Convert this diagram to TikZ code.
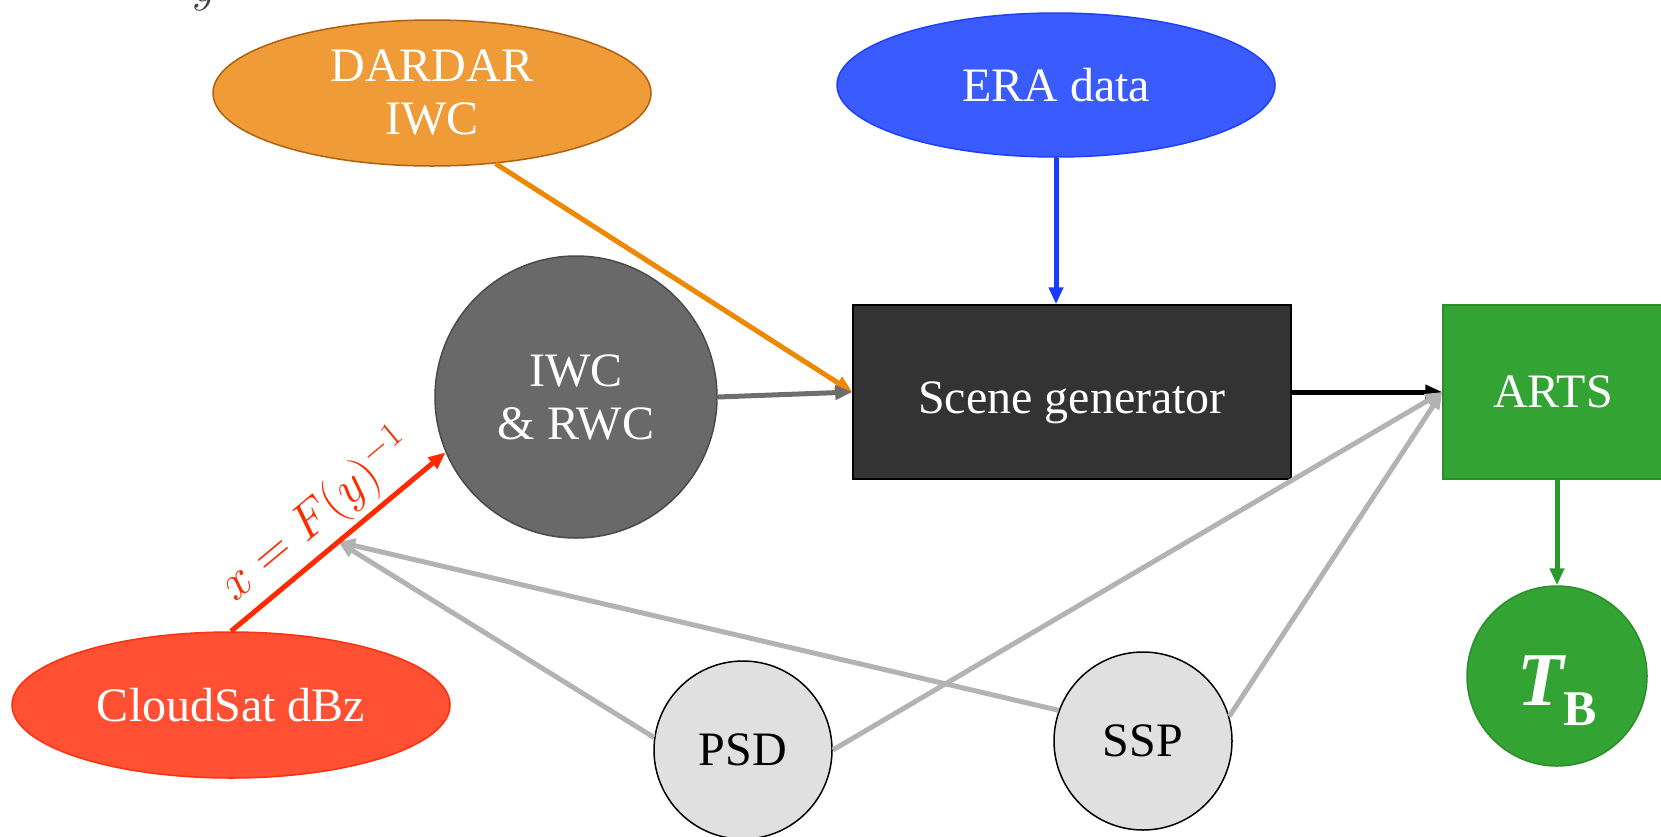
\RequirePackage{fix-cm}
\documentclass[tikz,border=0pt]{standalone}
\usepackage{fontspec}
\setmainfont{Liberation Serif}
\usetikzlibrary{shapes.geometric,arrows.meta,calc}
\definecolor{orfill}{HTML}{EF9C38}
\definecolor{ordraw}{HTML}{B06010}
\definecolor{orarr}{HTML}{EE8800}
\definecolor{blfill}{HTML}{3A5CFF}
\definecolor{bldraw}{HTML}{1F3FFF}
\definecolor{blarr}{HTML}{1A3AFF}
\definecolor{dgfill}{HTML}{696969}
\definecolor{dgdraw}{HTML}{4A4A4A}
\definecolor{dgarr}{HTML}{6E6E6E}
\definecolor{scfill}{HTML}{333333}
\definecolor{grfill}{HTML}{33A333}
\definecolor{grdraw}{HTML}{2A8F2A}
\definecolor{grarr}{HTML}{2A9A2A}
\definecolor{rdfill}{HTML}{FF5033}
\definecolor{rddraw}{HTML}{FF3010}
\definecolor{rdarr}{HTML}{FF2A00}
\definecolor{ltfill}{HTML}{E0E0E0}
\definecolor{ltarr}{HTML}{B3B3B3}
\definecolor{ytext}{HTML}{404040}
\tikzset{
  lbl/.style={font=\fontsize{48}{53}\selectfont, text=white, align=center, inner sep=0pt},
  ell/.style={ellipse, lbl, minimum width=438pt, minimum height=146pt, line width=1.5pt},
  circ/.style={circle, lbl, line width=1.5pt},
  arr/.style={line width=5pt, -{Triangle[length=17pt,width=14pt]}},
  garr/.style={line width=5pt, draw=ltarr, -{Triangle[length=17pt,width=14pt]}},
}
\begin{document}
\begin{tikzpicture}[x=1pt,y=-1pt]
\useasboundingbox (0,0) rectangle (1661,836);
\node[text=ytext, font=\fontsize{48}{53}\selectfont, anchor=base] (ylab) at (205,1) {$y$};
\node[ell, fill=orfill, draw=ordraw] (dardar) at (432,93) {DARDAR\\IWC};
\node[ell, fill=blfill, draw=bldraw, minimum height=144pt] (era) at (1056,85) {ERA data};
\node[circ, fill=dgfill, draw=dgdraw, minimum size=282pt] (iwc) at (576,397) {IWC\\\& RWC};
\node[lbl, fill=scfill, draw=black, line width=1.5pt, minimum width=438pt, minimum height=174pt, text height=62pt, text depth=20pt] (scene) at (1072,392) {Scene generator};
\node[lbl, fill=grfill, draw=grdraw, line width=1.5pt, minimum width=220pt, minimum height=174pt, text width=220pt] (arts) at (1553,392) {ARTS};
\node[circ, fill=grfill, draw=grdraw, minimum size=180pt, text height=78pt, text depth=20pt] (tb) at (1557,676) {{\fontsize{76}{76}\selectfont\bfseries\itshape T}{\fontsize{50}{50}\selectfont\bfseries\raisebox{-20pt}{B}}};
\node[ell, fill=rdfill, draw=rddraw] (cloudsat) at (231,705) {CloudSat dBz};
\node[circ, fill=ltfill, draw=black, text=black, minimum size=178pt] (psd) at (743,750) {PSD};
\node[circ, fill=ltfill, draw=black, text=black, minimum size=178pt] (ssp) at (1143,741) {SSP};
\coordinate (redmid) at ($(cloudsat.north)!0.5!(iwc.203)$);
\draw[arr, draw=orarr, fill=orarr] (dardar.-48) -- (scene.west);
\draw[arr, draw=blarr] (era.south) -- (era.south |- scene.north);
\draw[arr, draw=dgarr] (iwc.east) -- (scene.west);
\draw[arr, draw=black] (scene.east) -- (arts.west);
\draw[arr, draw=grarr] (arts.south -| tb.north) -- (tb.north);
\draw[garr] (psd.0) -- (arts.west);
\draw[garr] (ssp.16) -- (arts.west);
\draw[garr] (psd.172) -- (redmid);
\draw[garr] (ssp.160) -- (redmid);
\draw[arr, draw=rdarr] (cloudsat.north) -- node[sloped, above, text=rdarr, font=\fontsize{50}{55}\selectfont, inner sep=4pt, pos=0.5] (flab) {$x = F(y)^{-1}$} (iwc.203);
\end{tikzpicture}
\end{document}
